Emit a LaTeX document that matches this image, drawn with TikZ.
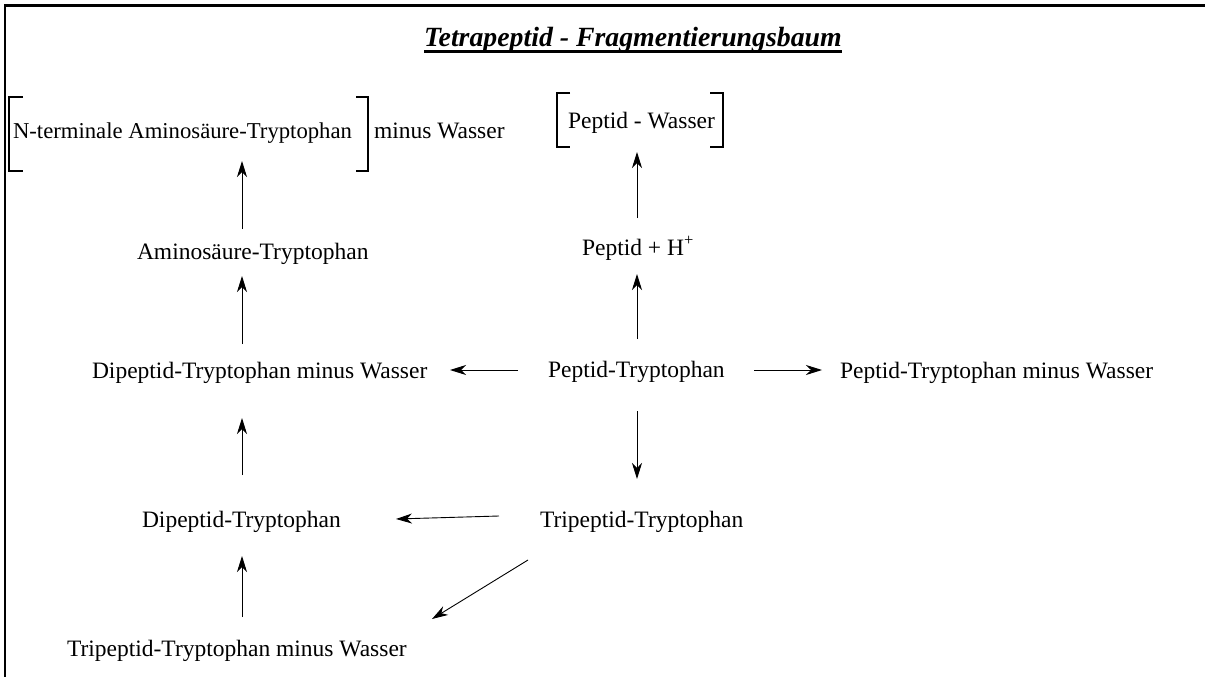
\documentclass[tikz,border=0pt]{standalone}
\usepackage{fontspec}
\setmainfont{Liberation Serif}
\usetikzlibrary{arrows.meta}
\tikzset{
  lbl/.style={inner sep=0pt, outer sep=0pt, anchor=base west, font=\fontsize{23.5}{28}\selectfont},
  arr/.style={line width=0.9pt, -{Stealth[length=16pt,width=10pt,inset=5pt]}},
  brk/.style={line width=2pt},
  frame/.style={line width=2.5pt}
}
\begin{document}
\begin{tikzpicture}[x=1pt,y=-1pt]
\useasboundingbox (0,0) rectangle (1205,677);
% frame
\draw[frame] (5,677) -- (5,5.5) -- (1205,5.5);
% title
\node[inner sep=0pt, anchor=base, font=\fontsize{27.8}{33}\selectfont\bfseries\itshape] (title) at (633,46.5) {Tetrapeptid - Fragmentierungsbaum};
\draw[line width=2.5pt] ([yshift=-4.8pt]title.base west) -- ([yshift=-4.8pt]title.base east);
% nodes
\node[lbl, font=\fontsize{22.7}{27}\selectfont] (nterm) at (13,138) {N-terminale Aminosäure-Tryptophan};
\node[lbl] (minusw) at (374,138) {minus Wasser};
\node[lbl] (pw) at (568,128) {Peptid - Wasser};
\node[lbl] (amino) at (137,259) {Aminosäure-Tryptophan};
\node[lbl] (ph) at (582,255) {Peptid + H\textsuperscript{+}};
\node[lbl] (dipw) at (92,378) {Dipeptid-Tryptophan minus Wasser};
\node[lbl] (pt) at (548,377) {Peptid-Tryptophan};
\node[lbl] (ptw) at (840,378) {Peptid-Tryptophan minus Wasser};
\node[lbl] (dip) at (142,527) {Dipeptid-Tryptophan};
\node[lbl] (trip) at (540,527) {Tripeptid-Tryptophan};
\node[lbl] (tripw) at (67,656) {Tripeptid-Tryptophan minus Wasser};
% brackets
\draw[brk] (23,97) -- (9,97) -- (9,171) -- (23,171);
\draw[brk] (356,97) -- (368,97) -- (368,171) -- (356,171);
\draw[brk] (570,93) -- (557,93) -- (557,147) -- (570,147);
\draw[brk] (710,93) -- (723,93) -- (723,147) -- (710,147);
% arrow end points
\coordinate (a1s) at (242,229); \coordinate (a1e) at (242,161);
\coordinate (a2s) at (242,344); \coordinate (a2e) at (242,276);
\coordinate (a3s) at (242,475); \coordinate (a3e) at (242,418);
\coordinate (a4s) at (242,617); \coordinate (a4e) at (242,556);
\coordinate (a5s) at (499,516); \coordinate (a5e) at (396,519);
\coordinate (a6s) at (528,560); \coordinate (a6e) at (432,619);
\coordinate (a7s) at (518,370); \coordinate (a7e) at (450,370);
\coordinate (a8s) at (754,370); \coordinate (a8e) at (822,370);
\coordinate (a9s) at (637,411); \coordinate (a9e) at (637,479);
\coordinate (a10s) at (637,339); \coordinate (a10e) at (637,274);
\coordinate (a11s) at (637,218); \coordinate (a11e) at (637,152);
% arrows
\draw[arr] (a1s) -- (a1e);
\draw[arr] (a2s) -- (a2e);
\draw[arr] (a3s) -- (a3e);
\draw[arr] (a4s) -- (a4e);
\draw[arr] (a5s) -- (a5e);
\draw[arr] (a6s) -- (a6e);
\draw[arr] (a7s) -- (a7e);
\draw[arr] (a8s) -- (a8e);
\draw[arr] (a9s) -- (a9e);
\draw[arr] (a10s) -- (a10e);
\draw[arr] (a11s) -- (a11e);
\end{tikzpicture}
\end{document}
